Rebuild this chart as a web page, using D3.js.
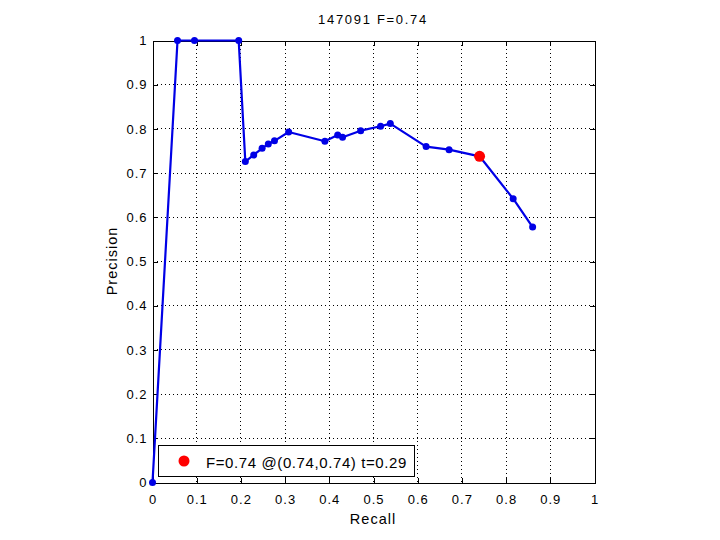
<!DOCTYPE html>
<html><head><meta charset="utf-8">
<script src="https://cdn.jsdelivr.net/npm/d3@7"></script>
<style>body{margin:0;background:#fff;} svg{display:block;} text{font-family:"Liberation Sans",Arial,sans-serif;}</style>
</head><body>
<svg id="c" width="720" height="540"></svg>
<script>
const recall =    [0, 0.0566, 0.095, 0.195, 0.210, 0.229, 0.248, 0.262, 0.276, 0.308, 0.390, 0.419, 0.430, 0.471, 0.516, 0.538, 0.619, 0.671, 0.740, 0.816, 0.860];
const precision = [0, 1.0,    1.0,   1.0,   0.726, 0.741, 0.756, 0.766, 0.773, 0.793, 0.772, 0.786, 0.781, 0.796, 0.806, 0.812, 0.760, 0.753, 0.738, 0.642, 0.578];
const best = {r: 0.74, p: 0.738};
const ticks = [0,0.1,0.2,0.3,0.4,0.5,0.6,0.7,0.8,0.9,1];
const tickLabels = ["0","0.1","0.2","0.3","0.4","0.5","0.6","0.7","0.8","0.9","1"];
const titleText = "147091 F=0.74";
const legendText = "F=0.74 @(0.74,0.74) t=0.29";

const svg = d3.select("#c");
const L=152.5, R=594.5, T=40.5, B=482.5;
const x = d3.scaleLinear().domain([0,1]).range([L,R]);
const y = d3.scaleLinear().domain([0,1]).range([B,T]);
const px = v => Math.round(v-0.5)+0.5;

// grid
const g = svg.append("g");
ticks.slice(1,-1).forEach(t=>{
  g.append("line").attr("x1",px(x(t))).attr("x2",px(x(t))).attr("y1",T).attr("y2",B)
   .attr("stroke","#000").attr("stroke-width",1).attr("stroke-dasharray","1,3").attr("shape-rendering","crispEdges");
  g.append("line").attr("y1",px(y(t))).attr("y2",px(y(t))).attr("x1",L).attr("x2",R)
   .attr("stroke","#000").attr("stroke-width",1).attr("stroke-dasharray","1,3").attr("shape-rendering","crispEdges");
});
// axes
const xb = svg.append("g").attr("transform",`translate(0,${B})`)
  .call(d3.axisBottom(x).tickValues(ticks).tickSize(-5).tickPadding(12).tickFormat((d,i)=>tickLabels[i]));
const xt = svg.append("g").attr("transform",`translate(0,${T})`)
  .call(d3.axisTop(x).tickValues(ticks).tickSize(-5).tickFormat(""));
const yl = svg.append("g").attr("transform",`translate(${L},0)`)
  .call(d3.axisLeft(y).tickValues(ticks).tickSize(-5).tickPadding(5).tickFormat((d,i)=>tickLabels[i]));
const yr = svg.append("g").attr("transform",`translate(${R},0)`)
  .call(d3.axisRight(y).tickValues(ticks).tickSize(-5).tickFormat(""));
[xb,xt,yl,yr].forEach(a=>{
  a.selectAll("path").attr("stroke","#000").attr("stroke-width",1).attr("shape-rendering","crispEdges");
  a.selectAll("line").attr("stroke","#000").attr("shape-rendering","crispEdges");
  a.selectAll("text").attr("font-size",13).attr("letter-spacing",1).attr("fill","#000").attr("font-family","Liberation Sans, Arial, sans-serif");
});

// curve
const pts = recall.map((r,i)=>[r,precision[i]]);
svg.append("path").datum(pts)
  .attr("d", d3.line().x(d=>x(d[0])).y(d=>y(d[1])))
  .attr("fill","none").attr("stroke","#0000e6").attr("stroke-width",2.2).attr("stroke-linejoin","round");
svg.append("g").selectAll("circle").data(pts).join("circle")
  .attr("cx",d=>x(d[0])).attr("cy",d=>y(d[1])).attr("r",3.5).attr("fill","#0000e6");
svg.append("circle").attr("cx",x(best.r)).attr("cy",y(best.p)).attr("r",5.5).attr("fill","#f00");

// title & labels
svg.append("text").attr("x",373).attr("y",24).attr("text-anchor","middle").attr("font-size",13).attr("letter-spacing",1.7).text(titleText);
svg.append("text").attr("x",373).attr("y",524).attr("text-anchor","middle").attr("font-size",14.5).attr("letter-spacing",1).text("Recall");
svg.append("text").attr("transform","translate(117,261) rotate(-90)").attr("text-anchor","middle").attr("font-size",14.5).attr("letter-spacing",1).text("Precision");

// legend
const lg = svg.append("g");
lg.append("rect").attr("x",158.5).attr("y",445.5).attr("width",256).attr("height",31)
  .attr("fill","#fff").attr("stroke","#000").attr("stroke-width",1).attr("shape-rendering","crispEdges");
lg.append("circle").attr("cx",184).attr("cy",461).attr("r",5.5).attr("fill","#f00");
lg.append("text").attr("x",206).attr("y",468).attr("font-size",15).attr("letter-spacing",0.6).text(legendText);
</script>
</body></html>
